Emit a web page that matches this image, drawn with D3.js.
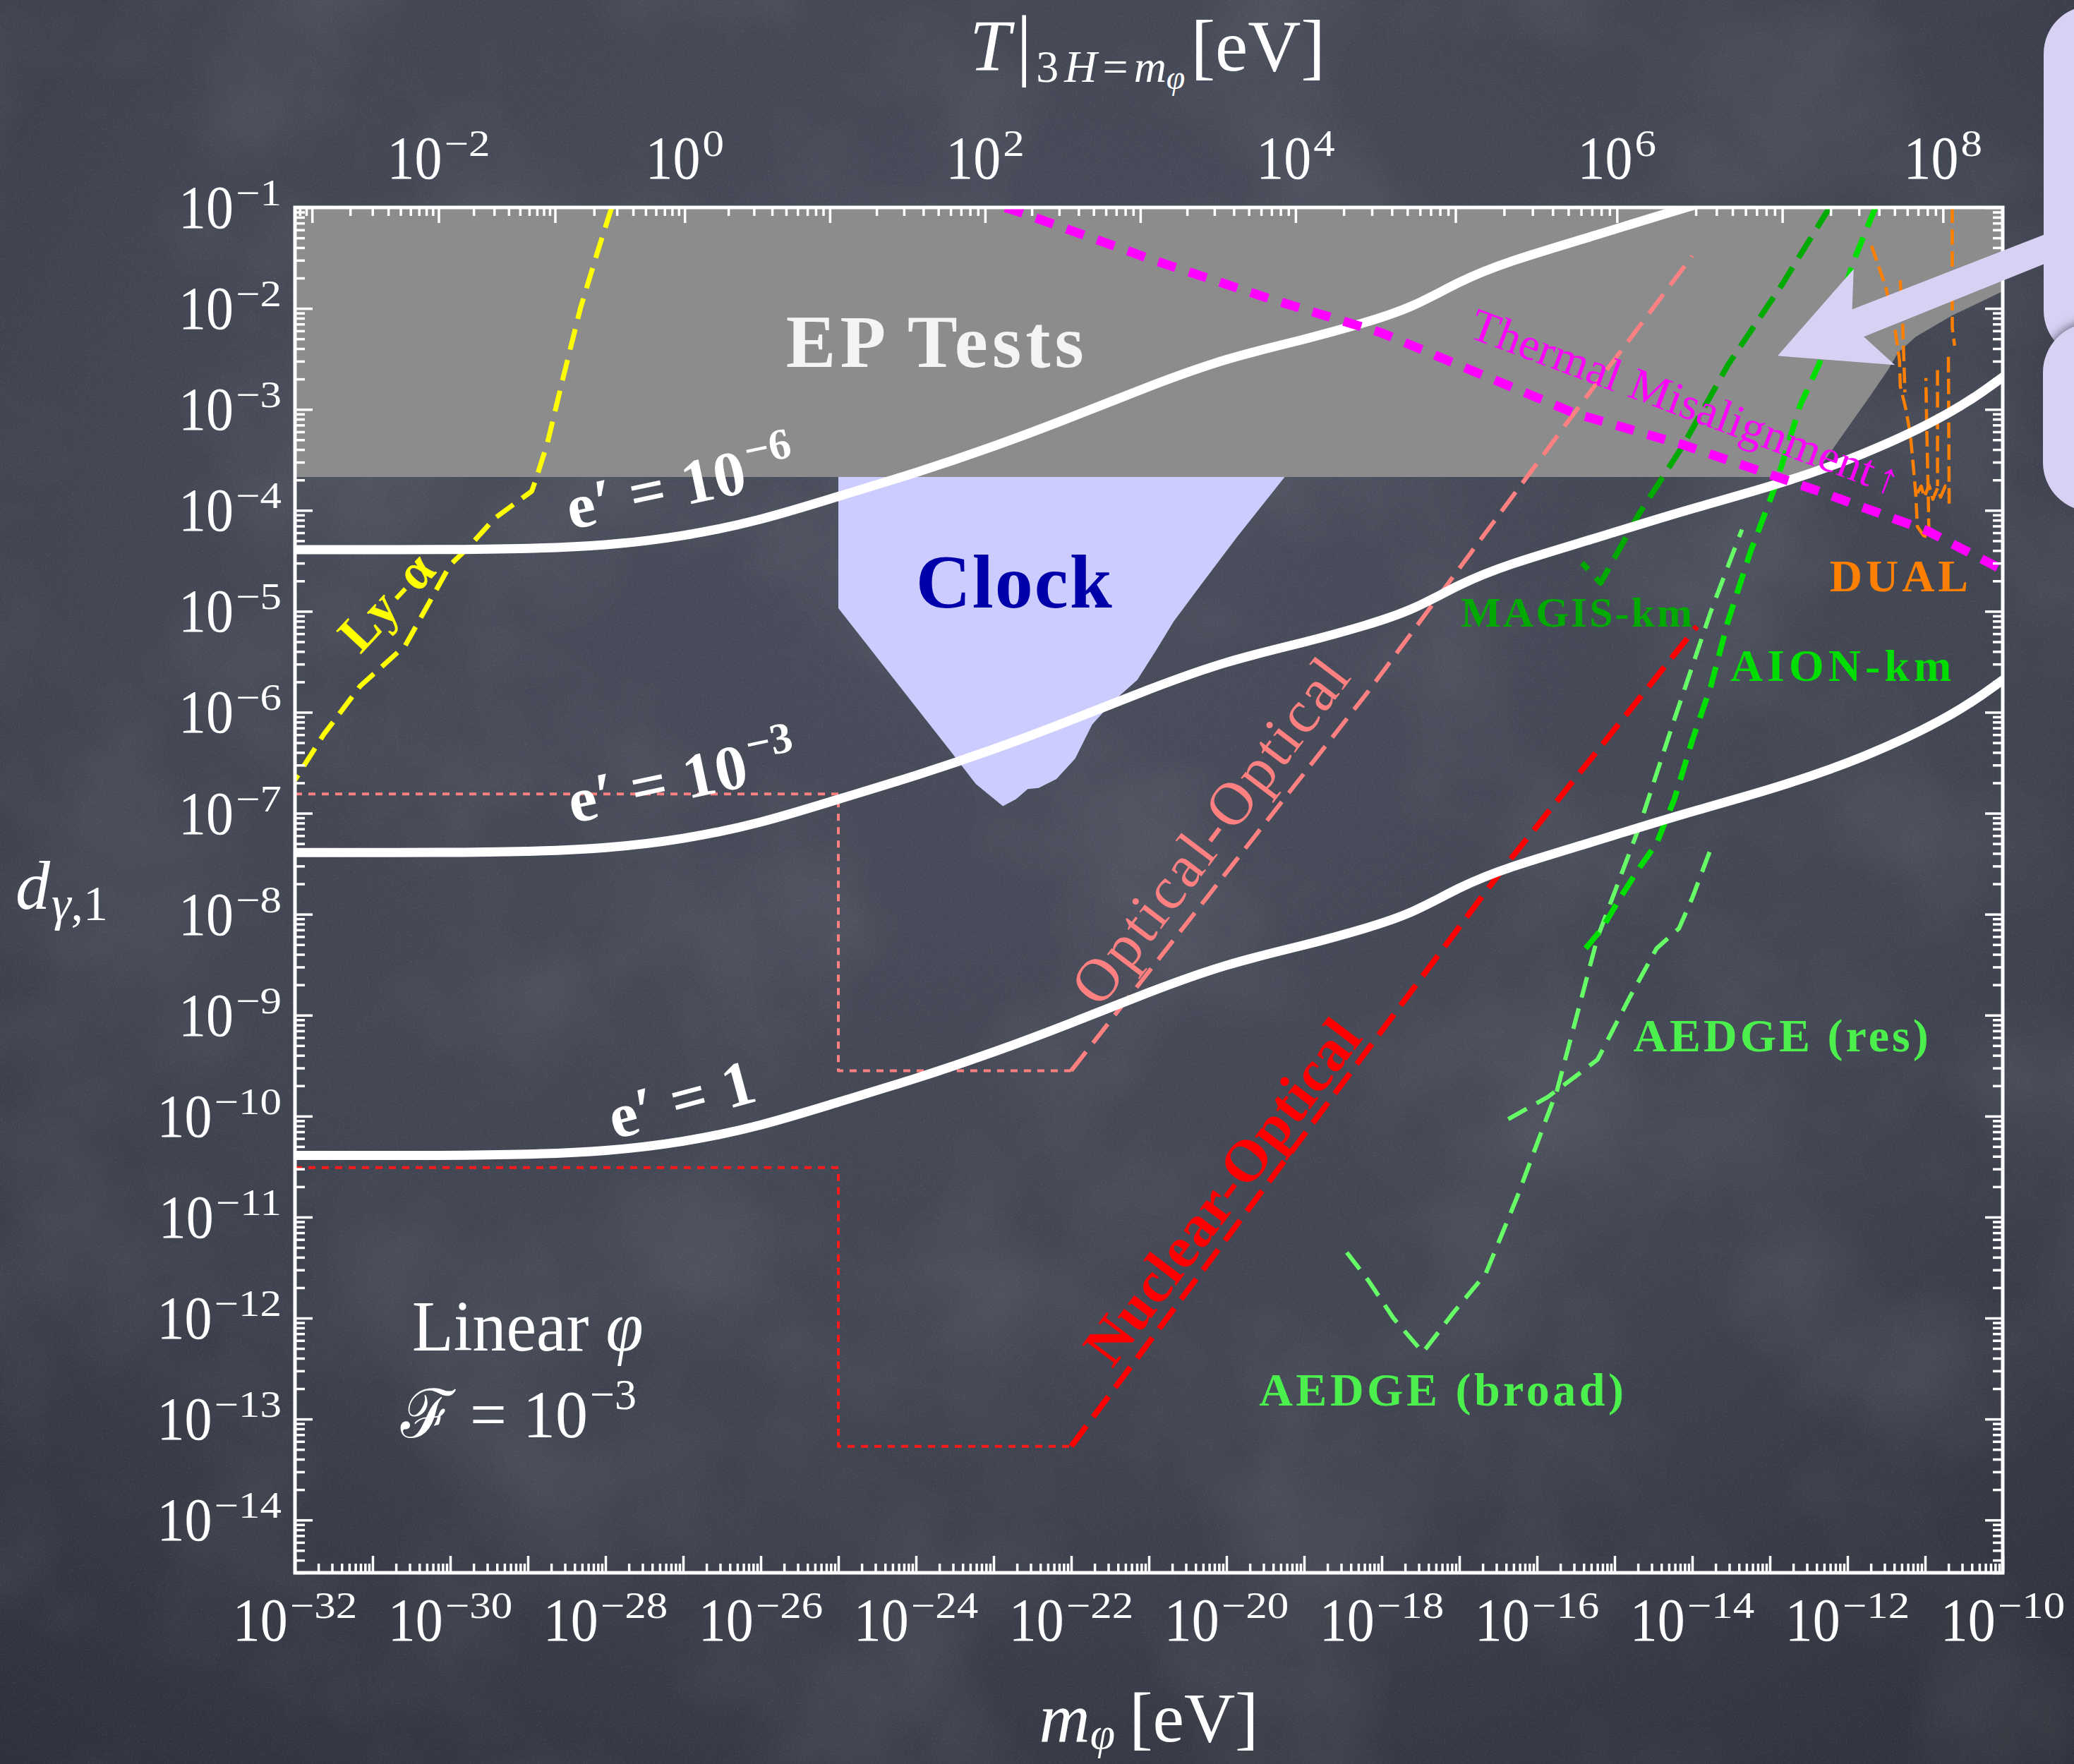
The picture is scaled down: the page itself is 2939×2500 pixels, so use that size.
<!DOCTYPE html>
<html>
<head>
<meta charset="utf-8">
<title>Photon coupling reach vs scalar mass</title>
<script src="https://cdn.jsdelivr.net/npm/d3@7"></script>
<style>
  html, body { margin: 0; padding: 0; background: #3c404c; }
  svg { display: block; }
</style>
</head>
<body>
<svg id="chart" width="2939" height="2500"></svg>
<script>
// ---------------- data (all values are log10) ----------------
// axis ticks
const massMajorExps = d3.range(-32, -9);            // 1e-32 ... 1e-10 eV
const massLabelExps = d3.range(-32, -9, 2);
const couplingMajorExps = d3.range(-1, -15, -1);    // 1e-1 ... 1e-14
// top axis: temperature T at 3H = m_phi, decade marks and the mass they sit on
const tempDecadeExps = [-3, -2, -1, 0, 1, 2, 3, 4, 5, 6, 7, 8];
const tempDecadeMass = [-31.78, -30.15, -28.65, -26.98, -25.11, -23.11, -21.11, -19.11, -17.05, -14.97, -12.84, -10.77];
const tempLabelExps = [-2, 0, 2, 4, 6, 8];

// e' contours (shared mass grid)
const contourMass = [-32, -30, -29, -28, -27, -26, -25, -24, -23, -22, -21, -20, -19, -18.2, -17.6, -17, -16.4, -15.3, -14.1, -13, -11.8, -10.6, -10];
const contourE1   = [-10.39, -10.39, -10.38, -10.35, -10.26, -10.10, -9.86, -9.63, -9.37, -9.08, -8.77, -8.49, -8.31, -8.14, -7.99, -7.73, -7.54, -7.29, -7.00, -6.77, -6.46, -6.02, -5.68];
const contourE1m3 = [-7.39, -7.39, -7.38, -7.35, -7.26, -7.10, -6.86, -6.63, -6.37, -6.08, -5.77, -5.49, -5.31, -5.14, -4.99, -4.73, -4.54, -4.29, -4.00, -3.77, -3.46, -3.02, -2.68];
const contourE1m6 = [-4.39, -4.39, -4.38, -4.35, -4.26, -4.10, -3.86, -3.63, -3.37, -3.08, -2.77, -2.49, -2.31, -2.14, -1.99, -1.73, -1.54, -1.29, -1.00, -0.77, -0.46, -0.02, 0.32];

// excluded / projected regions  [log10 m, log10 d]
const epBoundary = [[-32, -3.67], [-12.57, -3.67], [-12.35, -3.57], [-12.16, -3.36], [-11.94, -3.12], [-11.71, -2.87],
  [-11.48, -2.61], [-11.35, -2.44], [-11.12, -2.28], [-10.65, -2.07], [-10.0, -1.83]];
const clockRegion = [[-25.0, -3.67], [-25.0, -4.97], [-23.55, -6.39], [-23.23, -6.71], [-22.88, -6.93], [-22.71, -6.86],
  [-22.56, -6.76], [-22.42, -6.75], [-22.19, -6.66], [-21.95, -6.46], [-21.73, -6.12], [-21.61, -6.02], [-21.37, -5.83],
  [-21.15, -5.68], [-20.91, -5.39], [-20.68, -5.10], [-20.34, -4.75], [-19.86, -4.26], [-19.25, -3.67]];

const lymanAlpha = [[-27.92, -1.0], [-28.09, -1.41], [-28.32, -1.99], [-28.55, -2.70], [-28.75, -3.34], [-28.90, -3.70],
  [-28.95, -3.81], [-29.43, -4.08], [-29.77, -4.37], [-30.0, -4.54], [-30.58, -5.34], [-31.16, -5.74], [-31.63, -6.22], [-32.0, -6.67]];
const thermalMisalignment = [[-22.85, -1.0], [-22.65, -1.05], [-20.91, -1.53], [-19.46, -1.90], [-18.01, -2.24], [-15.51, -3.04],
  [-14.12, -3.35], [-12.37, -3.81], [-10.98, -4.20], [-10.0, -4.59]];

const opticalPlateau = [[-32, -6.81], [-25, -6.81], [-25, -9.55], [-22, -9.55]];
const opticalSlope = [[-22, -9.55], [-18.17, -5.79], [-15.62, -3.14], [-14.0, -1.48]];
const nuclearPlateau = [[-32, -10.51], [-25, -10.51], [-25, -13.27], [-22, -13.27]];
const nuclearSlope = [[-22, -13.27], [-16.44, -7.55], [-13.94, -5.15]];

const magisKm = [[-12.23, -1.0], [-12.84, -1.76], [-13.54, -2.56], [-14.12, -3.36], [-14.69, -4.04], [-15.18, -4.72], [-15.42, -4.52]];
const aionKm = [[-11.64, -1.0], [-11.91, -1.51], [-12.37, -2.56], [-12.61, -2.96], [-12.93, -3.76], [-13.25, -4.41], [-13.54, -5.10],
  [-13.76, -5.74], [-14.0, -6.28], [-14.23, -6.86], [-14.46, -7.30], [-14.69, -7.55], [-14.93, -7.84], [-15.16, -8.14], [-15.45, -8.41]];
const aedgeBroad = [[-18.45, -11.35], [-18.17, -11.63], [-17.85, -12.0], [-17.47, -12.34], [-17.07, -11.94], [-16.66, -11.56],
  [-16.26, -10.81], [-15.74, -9.74], [-15.22, -8.23], [-14.69, -7.15], [-14.23, -6.07], [-13.76, -5.0], [-13.36, -4.19]];
const aedgeRes = [[-16.37, -10.03], [-15.86, -9.81], [-15.51, -9.61], [-15.22, -9.44], [-14.81, -8.83], [-14.46, -8.34],
  [-14.17, -8.14], [-14.0, -7.84], [-13.76, -7.35]];

const dualCurves = [
  [[-11.69, -1.38], [-11.51, -1.78], [-11.39, -2.19], [-11.33, -2.51], [-11.32, -2.77], [-11.25, -2.99], [-11.19, -3.25],
   [-11.15, -3.58], [-11.12, -3.84], [-11.10, -4.16], [-11.02, -4.25], [-10.95, -4.27], [-10.96, -3.83], [-10.98, -3.14], [-10.99, -2.69]],
  [[-11.32, -1.72], [-11.29, -2.13], [-11.26, -2.83]],
  [[-10.65, -1.0], [-10.65, -2.19], [-10.62, -2.37]],
  [[-10.84, -2.61], [-10.84, -3.76]],
  [[-10.70, -2.48], [-10.69, -3.97]],
  [[-11.10, -3.83], [-11.05, -3.76], [-11.01, -3.87], [-10.95, -3.75], [-10.90, -3.89], [-10.84, -3.78], [-10.80, -3.87], [-10.74, -3.76], [-10.69, -3.83]]
];

// call-out arrow from the side panel
const calloutArrow = [[-9.40, -1.25], [-11.94, -2.01], [-11.92, -1.61], [-12.90, -2.47], [-11.39, -2.56], [-11.79, -2.28], [-9.40, -1.54]];

// ---------------- layout ----------------
const W = 2939, H = 2500;
const M = { left: 418, right: 2838, top: 294, bottom: 2229 };
const FONT = "'Liberation Serif', 'Times New Roman', 'DejaVu Serif', serif";

const x = d3.scaleLog().domain([1e-32, 1e-10]).range([M.left, M.right]);
const y = d3.scaleLog().domain([1e-1, 3e-15]).range([M.top, M.bottom]);
const X = lm => x(Math.pow(10, lm));
const Y = ld => y(Math.pow(10, ld));
const tScale = d3.scaleLinear().domain(tempDecadeExps).range(tempDecadeMass.map(X));

const svg = d3.select('#chart');
const defs = svg.append('defs');

// chalkboard backdrop
const bg = defs.append('radialGradient').attr('id', 'bgGrad')
  .attr('cx', 0.5).attr('cy', 0.32).attr('r', 0.85);
bg.append('stop').attr('offset', 0).attr('stop-color', '#4a4e5c');
bg.append('stop').attr('offset', 0.55).attr('stop-color', '#424653');
bg.append('stop').attr('offset', 1).attr('stop-color', '#2e313b');
const smudge = defs.append('filter').attr('id', 'smudge').attr('x', 0).attr('y', 0).attr('width', '100%').attr('height', '100%');
smudge.append('feTurbulence').attr('type', 'fractalNoise').attr('baseFrequency', '0.0035').attr('numOctaves', 4).attr('seed', 11);
smudge.append('feColorMatrix').attr('type', 'matrix').attr('values', '0 0 0 0 1  0 0 0 0 1  0 0 0 0 1  0 0 0 1.5 -0.62');
const grain = defs.append('filter').attr('id', 'grain').attr('x', 0).attr('y', 0).attr('width', '100%').attr('height', '100%');
grain.append('feTurbulence').attr('type', 'fractalNoise').attr('baseFrequency', '0.45').attr('numOctaves', 2).attr('seed', 3);
grain.append('feColorMatrix').attr('type', 'matrix').attr('values', '0 0 0 0 1  0 0 0 0 1  0 0 0 0 1  0 0 0 2.2 -1.15');
const shadow = defs.append('filter').attr('id', 'panelShadow').attr('x', '-30%').attr('y', '-30%').attr('width', '160%').attr('height', '160%');
shadow.append('feDropShadow').attr('dx', 0).attr('dy', -3).attr('stdDeviation', 7).attr('flood-color', '#3a3a48').attr('flood-opacity', 0.7);

defs.append('clipPath').attr('id', 'plotClip').append('rect')
  .attr('x', M.left).attr('y', M.top).attr('width', M.right - M.left).attr('height', M.bottom - M.top);

svg.append('rect').attr('width', W).attr('height', H).attr('fill', 'url(#bgGrad)');
svg.append('rect').attr('width', W).attr('height', H).attr('filter', 'url(#smudge)').attr('opacity', 0.10);
svg.append('rect').attr('width', W).attr('height', H).attr('filter', 'url(#grain)').attr('opacity', 0.08);

// ---------------- plot content ----------------
const plot = svg.append('g').attr('clip-path', 'url(#plotClip)');
const lineLog = d3.line().x(p => X(p[0])).y(p => Y(p[1]));
const smoothLog = d3.line().x(p => X(p[0])).y(p => Y(p[1])).curve(d3.curveBasis);

// atomic-clock reach
plot.append('path').attr('d', lineLog(clockRegion) + 'Z').attr('fill', '#ccccff');
// equivalence-principle tests
plot.append('path').attr('d', lineLog([...epBoundary, [-10, -1], [-32, -1]]) + 'Z').attr('fill', '#8c8c8c');

function dashed(pts, color, width, dash, gen = lineLog) {
  return plot.append('path').attr('d', gen(pts)).attr('fill', 'none')
    .attr('stroke', color).attr('stroke-width', width).attr('stroke-dasharray', dash)
    .attr('stroke-linejoin', 'round');
}

// Lyman-alpha
dashed(lymanAlpha, '#ffff00', 7, '30 15');
// optical-optical and nuclear-optical clock projections
dashed(opticalPlateau, '#ff8080', 4, '10 9');
dashed(opticalSlope, '#ff8080', 6, '34 16');
dashed(nuclearPlateau, '#ff1a1a', 4, '10 9');
dashed(nuclearSlope, '#ff0000', 8, '36 16');
// atom interferometers
dashed(aedgeBroad, '#66ff66', 6, '30 16');
dashed(aedgeRes, '#66ff66', 6, '30 16');
dashed(magisKm, '#00aa00', 8, '34 16');
dashed(aionKm, '#00e000', 8, '30 16');
// DUAL
dualCurves.forEach(c => dashed(c, '#ff8000', 4.5, '22 9'));

// e' contours
[contourE1m6, contourE1m3, contourE1].forEach(series => {
  plot.append('path')
    .attr('d', smoothLog(contourMass.map((m, i) => [m, series[i]])))
    .attr('fill', 'none').attr('stroke', '#ffffff').attr('stroke-width', 13).attr('stroke-linecap', 'round');
});

// thermal misalignment
dashed(thermalMisalignment, '#ff00ff', 13, '26 20');

// ---------------- frame and ticks ----------------
const axes = svg.append('g');
function tickSet(axisGen, scale, values, size, transform) {
  const g = axes.append('g').attr('transform', transform)
    .call(axisGen(scale).tickValues(values).tickSize(size).tickFormat(''));
  g.select('.domain').remove();
  g.selectAll('.tick line').attr('stroke', '#ffffff').attr('stroke-width', 3.5);
  g.selectAll('text').remove();
}
function minorLog(lo, hi, vmin, vmax) {
  const out = [];
  for (let n = lo; n <= hi; n++) for (let k = 2; k <= 9; k++) {
    const v = k * Math.pow(10, n);
    if (v >= vmin && v <= vmax) out.push(v);
  }
  return out;
}
const massMajor = massMajorExps.map(e => Math.pow(10, e));
const massMinor = minorLog(-32, -11, 1e-32, 1e-10);
const couplingMajor = couplingMajorExps.map(e => Math.pow(10, e));
const couplingMinor = minorLog(-15, -2, 3e-15, 1e-1);

tickSet(d3.axisBottom, x, massMajor, -24, `translate(0,${M.bottom})`);
tickSet(d3.axisBottom, x, massMinor, -13, `translate(0,${M.bottom})`);
tickSet(d3.axisLeft, y, couplingMajor, -25, `translate(${M.left},0)`);
tickSet(d3.axisLeft, y, couplingMinor, -14, `translate(${M.left},0)`);
tickSet(d3.axisRight, y, couplingMajor, -25, `translate(${M.right},0)`);
tickSet(d3.axisRight, y, couplingMinor, -14, `translate(${M.right},0)`);

const tempMinor = [];
for (let n = -4; n <= 7; n++) for (let k = 2; k <= 9; k++) {
  const v = n + Math.log10(k);
  const px = tScale(v);
  if (px >= M.left && px <= M.right) tempMinor.push(v);
}
tickSet(d3.axisTop, tScale, tempDecadeExps, -22, `translate(0,${M.top})`);
tickSet(d3.axisTop, tScale, tempMinor, -12, `translate(0,${M.top})`);

axes.append('rect').attr('x', M.left).attr('y', M.top)
  .attr('width', M.right - M.left).attr('height', M.bottom - M.top)
  .attr('fill', 'none').attr('stroke', '#ffffff').attr('stroke-width', 5);

// ---------------- text helpers ----------------
const txt = svg.append('g').attr('font-family', FONT);

function powerLabel(parent, o) {
  const g = parent.append('g')
    .attr('transform', `translate(${o.x},${o.y})` + (o.rotate ? ` rotate(${o.rotate})` : ''))
    .attr('fill', o.fill || '#ffffff').attr('font-weight', o.weight || 'normal');
  const inner = g.append('g');
  const base = inner.append('text').attr('font-size', o.size).attr('letter-spacing', o.ls || 0)
    .attr('transform', `scale(1,${o.sy || 1})`).text(o.base);
  const bw = base.node().getComputedTextLength();
  const sup = inner.append('text').attr('font-size', o.supSize)
    .attr('transform', `translate(${bw + (o.gap || 0)},${-o.rise}) scale(1,${o.supSy || 1})`).text(o.exp);
  const sw = sup.node().getComputedTextLength();
  const total = bw + (o.gap || 0) + sw;
  const shift = o.anchor === 'middle' ? -total / 2 : o.anchor === 'end' ? -total : 0;
  inner.attr('transform', `translate(${shift},0)`);
  return g;
}
const minus = n => (n < 0 ? '\u2212' + Math.abs(n) : String(n));

const tickStyle = { base: '10', size: 78, sy: 1.12, supSize: 61, supSy: 0.85, rise: 32, gap: 3 };
// bottom: m_phi
massLabelExps.forEach(e => powerLabel(txt, { ...tickStyle, x: x(Math.pow(10, e)), y: 2325, exp: minus(e), anchor: 'middle' }));
// left: d_gamma,1
couplingMajorExps.forEach(e => powerLabel(txt, { ...tickStyle, x: 399, y: y(Math.pow(10, e)) + 29, exp: minus(e), anchor: 'end' }));
// top: temperature
tempLabelExps.forEach(e => powerLabel(txt, { ...tickStyle, x: tScale(e), y: 253, exp: minus(e), anchor: 'middle' }));

// axis titles
const cx = (M.left + M.right) / 2;
const topTitle = txt.append('text').attr('x', cx - 2).attr('y', 100).attr('text-anchor', 'middle')
  .attr('fill', '#ffffff').attr('font-size', 104);
topTitle.append('tspan').attr('font-style', 'italic').text('T');
topTitle.append('tspan').attr('font-size', 112).attr('dx', 8).text('|');
topTitle.append('tspan').attr('font-size', 64).attr('dy', 16).attr('dx', 6).attr('letter-spacing', 8).text('3');
topTitle.append('tspan').attr('font-size', 64).attr('font-style', 'italic').attr('letter-spacing', 8).text('H');
topTitle.append('tspan').attr('font-size', 64).attr('letter-spacing', 8).text('=');
topTitle.append('tspan').attr('font-size', 64).attr('font-style', 'italic').text('m');
topTitle.append('tspan').attr('font-size', 48).attr('font-style', 'italic').attr('dy', 10).text('\u03c6');
topTitle.append('tspan').attr('font-size', 104).attr('dy', -26).attr('dx', 8).text('[eV]');

const botTitle = txt.append('text').attr('x', cx).attr('y', 2468).attr('text-anchor', 'middle')
  .attr('fill', '#ffffff').attr('font-size', 100);
botTitle.append('tspan').attr('font-style', 'italic').text('m');
botTitle.append('tspan').attr('font-size', 64).attr('font-style', 'italic').attr('dy', 10).text('\u03c6');
botTitle.append('tspan').attr('dy', -10).attr('dx', 20).text('[eV]');

const leftTitle = txt.append('text').attr('x', 22).attr('y', 1288).attr('fill', '#ffffff').attr('font-size', 98);
leftTitle.append('tspan').attr('font-style', 'italic').text('d');
leftTitle.append('tspan').attr('font-size', 70).attr('dy', 16).attr('dx', 2).attr('font-style', 'italic').text('\u03b3');
leftTitle.append('tspan').attr('font-size', 70).text(',1');

// ---------------- in-plot labels ----------------
function label(text, lm, ld, o) {
  const t = txt.append('text')
    .attr('transform', `translate(${X(lm)},${Y(ld)})` + (o.rotate ? ` rotate(${o.rotate})` : '') + (o.sy ? ` scale(1,${o.sy})` : ''))
    .attr('fill', o.fill).attr('font-size', o.size).attr('font-weight', o.weight || 'normal')
    .attr('text-anchor', o.anchor || 'start').attr('letter-spacing', o.ls || 0)
    .attr('dy', o.dy || 0);
  t.text(text);
  return t;
}

label('EP Tests', -23.73, -2.58, { fill: '#f4f4f4', size: 106, weight: 'bold', anchor: 'middle', ls: 6 });
label('Clock', -22.73, -4.96, { fill: '#0000aa', size: 108, weight: 'bold', anchor: 'middle', ls: 2 });
label('Ly-\u03b1', -30.82, -4.89, { fill: '#ffff00', size: 74, weight: 'bold', anchor: 'middle', rotate: -47, dy: '0.35em', ls: 4 });
const thermal = label('Thermal Misalignment', -16.90, -2.28, { fill: '#ff00ff', size: 65, rotate: 20.5, ls: 0.5 });
thermal.append('tspan').attr('dx', 6).attr('font-size', 62).text('\u2191');
label('Optical-Optical', -20.21, -7.16, { fill: '#ff8080', size: 86, anchor: 'middle', rotate: -52.8, dy: '0.35em', ls: 4 });
label('Nuclear-Optical', -20.06, -10.74, { fill: '#ff0000', size: 84, weight: 'bold', anchor: 'middle', rotate: -52.8, dy: '0.35em', ls: 1 });
label('MAGIS-km', -16.98, -5.15, { fill: '#00aa00', size: 60, weight: 'bold', ls: 3 });
label('AION-km', -13.51, -5.69, { fill: '#00dd00', size: 64, weight: 'bold', ls: 6 });
label('DUAL', -12.23, -4.80, { fill: '#ff8000', size: 64, weight: 'bold', ls: 5 });
label('AEDGE (res)', -14.76, -9.36, { fill: '#4cf04c', size: 66, weight: 'bold', ls: 4 });
label('AEDGE (broad)', -19.58, -12.87, { fill: '#4cf04c', size: 66, weight: 'bold', ls: 4.5 });

// e' contour labels
const ePrime = { base: 'e\u2032 = 10', size: 90, ls: 1, supSize: 62, rise: 36, gap: 4, weight: 'bold', anchor: 'start' };
powerLabel(txt, { ...ePrime, x: X(-28.44), y: Y(-4.19), rotate: -12, exp: '\u22126' });
powerLabel(txt, { ...ePrime, x: X(-28.42), y: Y(-7.10), rotate: -12, exp: '\u22123' });
txt.append('text').attr('transform', `translate(${X(-27.88)},${Y(-10.23)}) rotate(-15)`)
  .attr('fill', '#ffffff').attr('font-size', 90).attr('letter-spacing', 1).attr('font-weight', 'bold').text('e\u2032 = 1');

// model annotation
const lin = txt.append('text').attr('transform', `translate(${X(-30.49)},${Y(-12.32)}) scale(1,1.06)`)
  .attr('fill', '#ffffff').attr('font-size', 96);
lin.append('tspan').text('Linear ');
lin.append('tspan').attr('font-style', 'italic').text('\u03c6');
powerLabel(txt, { x: X(-30.64), y: Y(-13.18), base: '\u2131 = 10', size: 92, sy: 1.04, supSize: 62, rise: 40, gap: 3, exp: '\u22123', anchor: 'start' });

// ---------------- side panel and call-out ----------------
const side = svg.append('g');
side.append('path').attr('d', lineLog(calloutArrow) + 'Z').attr('fill', '#d9d1f4');
side.append('rect').attr('x', M.right + 58).attr('y', 8).attr('width', 200).attr('height', 500).attr('rx', 68).attr('fill', '#d9d1f4');
side.append('rect').attr('x', M.right + 57).attr('y', 458).attr('width', 200).attr('height', 267).attr('rx', 70)
  .attr('fill', '#d9d1f4').attr('filter', 'url(#panelShadow)');
</script>
</body>
</html>
